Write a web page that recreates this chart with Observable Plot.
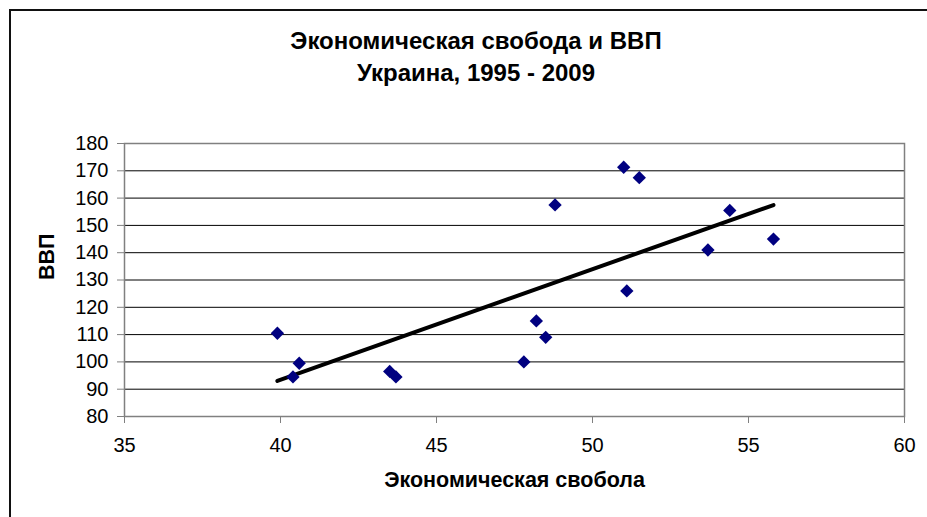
<!DOCTYPE html>
<html>
<head>
<meta charset="utf-8">
<script src="https://cdn.jsdelivr.net/npm/d3@7"></script>
<script src="https://cdn.jsdelivr.net/npm/@observablehq/plot@0.6"></script>
<style>
  html, body { margin: 0; padding: 0; background: #fff; }
  #wrap { position: relative; width: 927px; height: 517px; overflow: hidden; font-family: "Liberation Sans", Arial, sans-serif; }
  #border { position: absolute; left: 9px; top: 9px; width: 1000px; height: 600px; border-left: 2px solid #111; border-top: 2px solid #111; box-sizing: border-box; }
  .t { position: absolute; left: 0; width: 952px; text-align: center; font-weight: bold; font-size: 24px; line-height: 28px; color: #000; }
  #chart { position: absolute; left: 0; top: 0; }
</style>
</head>
<body>
<div id="wrap">
  <div id="border"></div>
  <div id="chart"></div>
  <div class="t" id="t1" style="top:27px"></div>
  <div class="t" id="t2" style="top:59px"></div>
</div>
<script>
const titleLines = ["Экономическая свобода и ВВП", "Украина, 1995 - 2009"];
const xLabel = "Экономическая свобола";
const yLabel = "ВВП";
const freedom = [39.9, 40.4, 40.6, 43.5, 43.7, 47.8, 48.2, 48.5, 48.8, 51.0, 51.5, 51.1, 53.7, 54.4, 55.8];
const gdp     = [110.5, 94.5, 99.5, 96.5, 94.5, 100.0, 115.0, 109.0, 157.5, 171.3, 167.5, 126.0, 141.0, 155.5, 145.0];
const xTicks = [35, 40, 45, 50, 55, 60];
const yTicks = [80, 90, 100, 110, 120, 130, 140, 150, 160, 170, 180];

document.getElementById("t1").textContent = titleLines[0];
document.getElementById("t2").textContent = titleLines[1];

const data = freedom.map((f, i) => ({x: f, y: gdp[i]}));

const chart = Plot.plot({
  width: 927,
  height: 517,
  marginLeft: 124,
  marginRight: 23,
  marginTop: 143,
  marginBottom: 101,
  style: {fontFamily: "'Liberation Sans', Arial, sans-serif", fontSize: "20px", color: "#000", background: "transparent"},
  x: {domain: [35, 60]},
  y: {domain: [80, 180]},
  marks: [
    Plot.gridY(yTicks.filter(d => d > 80 && d < 180), {stroke: "#000", strokeOpacity: 1}),
    Plot.frame({stroke: "#808080", strokeWidth: 1.5}),
    Plot.axisX({ticks: xTicks, tickSize: 7, stroke: "#808080", tickFormat: () => "", label: null}),
    Plot.axisY({ticks: yTicks, tickSize: 7, stroke: "#808080", tickFormat: () => "", label: null}),
    Plot.text(xTicks, {x: d => d, frameAnchor: "bottom", lineAnchor: "top", dy: 21, fontSize: 20, fill: "#000", text: d => String(d)}),
    Plot.text(yTicks, {y: d => d, frameAnchor: "left", textAnchor: "end", dx: -16, fontSize: 20, fill: "#000", text: d => String(d)}),
    Plot.linearRegressionY(data, {x: "x", y: "y", ci: 0, stroke: "#000", strokeWidth: 4, strokeLinecap: "round"}),
    Plot.dot(data, {x: "x", y: "y", symbol: "diamond2", r: 6, fill: "#000080", stroke: "none"}),
    Plot.text([xLabel], {frameAnchor: "bottom", dy: 70, fontSize: 21.5, fontWeight: "bold", text: d => d}),
    Plot.text([yLabel], {frameAnchor: "left", dx: -77, rotate: -90, fontSize: 21.5, fontWeight: "bold", text: d => d})
  ]
});
document.getElementById("chart").appendChild(chart);
</script>
</body>
</html>
